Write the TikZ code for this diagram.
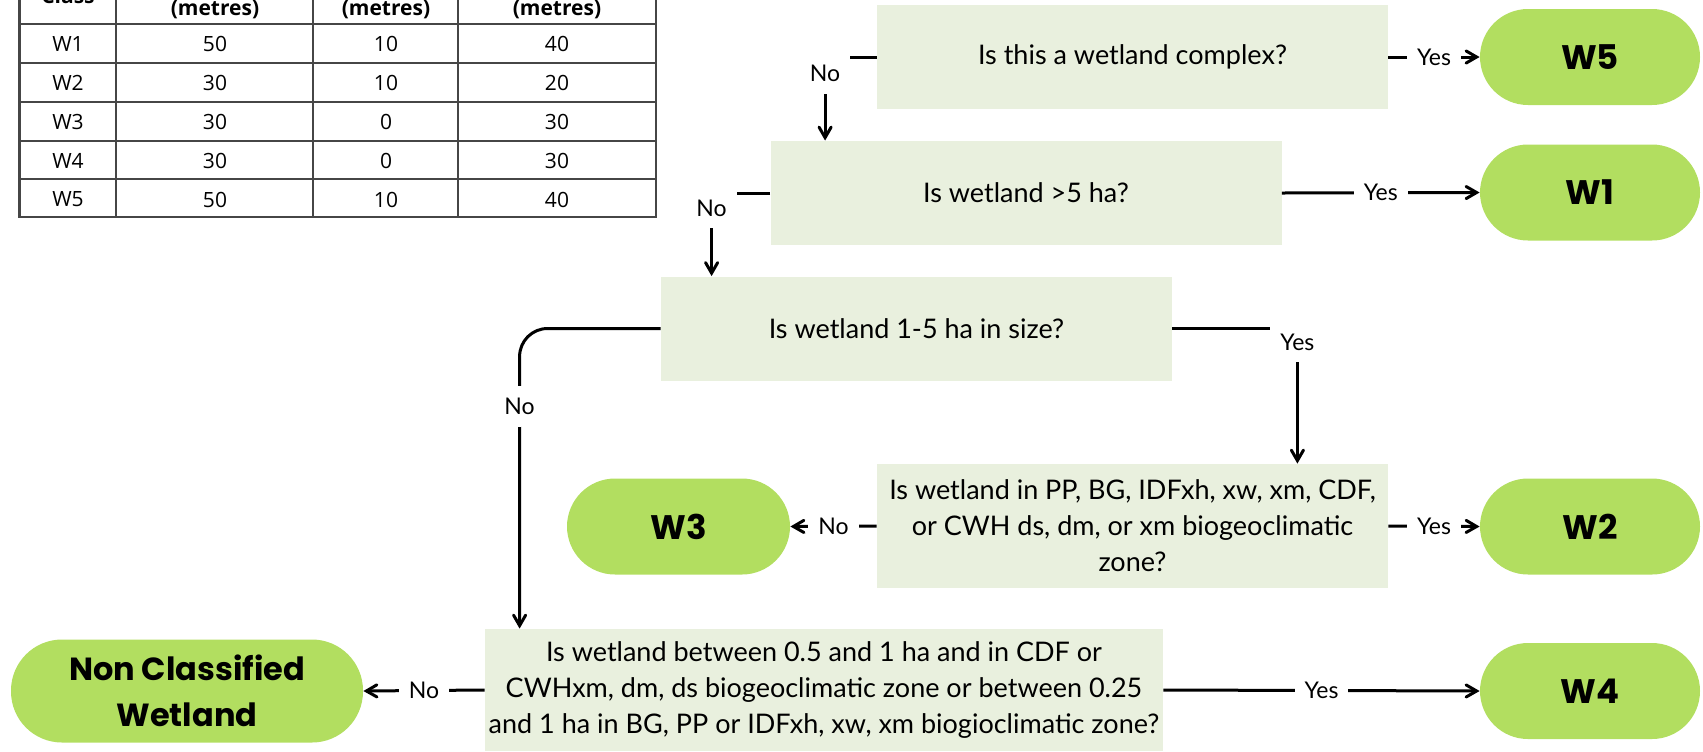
\documentclass[tikz,border=0pt]{standalone}
\usepackage{fontspec}
\setmainfont{Lato}
\newfontfamily\termfont{Poppins}
\newfontfamily\tblfont{Open Sans}
\usetikzlibrary{arrows}
\definecolor{boxgreen}{RGB}{233,240,222}
\definecolor{termgreen}{RGB}{178,222,96}
\definecolor{tblline}{RGB}{70,70,70}

\begin{document}
\begin{tikzpicture}[x=0.5pt,y=-0.5pt,
question/.style={fill=boxgreen,inner sep=0pt,minimum width=255.5pt,minimum height=52pt,align=center,font=\fontsize{13.5}{18}\selectfont},
terminal/.style={fill=termgreen,rounded corners=24pt,inner sep=0pt,minimum width=110pt,minimum height=48pt,align=center,font=\termfont\bfseries\fontsize{17}{22.8}\selectfont},
lbl/.style={fill=white,inner xsep=5pt,inner ysep=6pt,font=\fontsize{11.5}{13}\selectfont},
link/.style={line width=1.5pt,->,>=angle 60},
cell/.style={font=\tblfont\fontsize{10.5}{12}\selectfont},
head/.style={font=\tblfont\bfseries\fontsize{10.5}{12}\selectfont,anchor=base}]
\useasboundingbox (0,0) rectangle (1703,751);

% table
\draw[tblline,line width=1.2pt] (19.5,-60) rectangle (656,217);
\foreach \y in {24,63,102,141,179} \draw[tblline,line width=1.2pt] (19.5,\y) -- (656,\y);
\foreach \x in {116,313,458} \draw[tblline,line width=1.2pt] (\x,-60) -- (\x,217);
\node[head] (hcls) at (68,3) {Class};
\node[head] (hrma) at (215,15) {(metres)};
\node[head] (hrrz) at (386,15) {(metres)};
\node[head] (hrmz) at (557,15) {(metres)};
\foreach \cl/\ra/\rr/\rm [count=\i] in {W1/50/10/40,W2/30/10/20,W3/30/0/30,W4/30/0/30,W5/50/10/40}{
\node[cell] (cls\i) at (68,{4.5+39*\i}) {\cl};
\node[cell] (rma\i) at (215,{4.5+39*\i}) {\ra};
\node[cell] (rrz\i) at (386,{4.5+39*\i}) {\rr};
\node[cell] (rmz\i) at (557,{4.5+39*\i}) {\rm};
}

% questions
\node[question] (b1) at (1132.5,57) {Is this a wetland complex?};
\node[question] (b2) at (1026,193) {Is wetland >5 ha?};
\node[question] (b3) at (916.5,328.5) {Is wetland 1-5 ha in size?};
\node[question,minimum height=62pt] (b4) at (1132.5,526) {Is wetland in PP, BG, IDFxh, xw, xm, CDF,\\ or CWH ds, dm, or xm biogeoclimatic\\ zone?};
\node[question,minimum width=339pt,minimum height=61pt] (b5) at (824,690) {Is wetland between 0.5 and 1 ha and in CDF or\\ CWHxm, dm, ds biogeoclimatic zone or between 0.25\\ and 1 ha in BG, PP or IDFxh, xw, xm biogioclimatic zone?};

% classes
\node[terminal] (w5) at (1590,57) {W5};
\node[terminal] (w1) at (1590,192.5) {W1};
\node[terminal] (w2) at (1590,526.5) {W2};
\node[terminal] (w4) at (1590,691) {W4};
\node[terminal,minimum width=111.5pt] (w3) at (678.5,526.5) {W3};
\node[terminal,minimum width=176pt,minimum height=51.5pt,rounded corners=25.5pt,font=\termfont\bfseries\fontsize{16}{22.8}\selectfont] (ncw) at (187,691) {Non Classified\\ Wetland};

\coordinate (n1) at ([xshift=27.5pt]b2.north west);
\coordinate (n2) at ([xshift=25.5pt]b3.north west);
\coordinate (n3) at ([xshift=-45.5pt]b4.north east);
\coordinate (n4) at ([xshift=17.5pt]b5.north west);
\draw[link] (b1.east) -- node[lbl]{Yes} (w5.west);
\draw[link] (b1.west) -| node[lbl,pos=0.6]{No} (n1);
\draw[link] (b2.east) -- node[lbl]{Yes} (w1.west);
\draw[link] (b2.west) -| node[lbl,pos=0.59]{No} (n2);
\draw[link] (b3.east) -| node[lbl,pos=0.55]{Yes} (n3);
\draw[link,rounded corners=14pt] (b3.west) -| node[lbl,pos=0.63]{No} (n4);
\draw[link] (b4.east) -- node[lbl]{Yes} (w2.west);
\draw[link] (b4.west) -- node[lbl]{No} (w3.east);
\draw[link] (b5.east) -- node[lbl]{Yes} (w4.west);
\draw[link] (b5.west) -- node[lbl]{No} (ncw.east);
\end{tikzpicture}
\end{document}
